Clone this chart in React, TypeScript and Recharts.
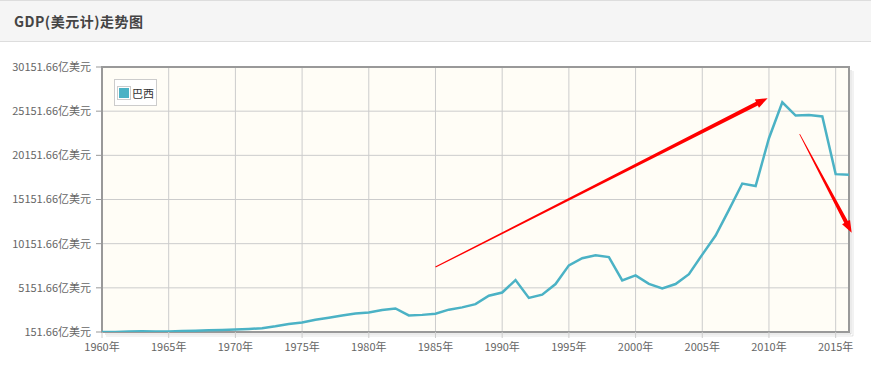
import React from 'react';
import {
  LineChart,
  Line,
  XAxis,
  YAxis,
  CartesianGrid,
  Legend,
  ReferenceLine,
  ReferenceArea,
} from 'recharts';

const years: number[] = [
  1960, 1961, 1962, 1963, 1964, 1965, 1966, 1967, 1968, 1969,
  1970, 1971, 1972, 1973, 1974, 1975, 1976, 1977, 1978, 1979,
  1980, 1981, 1982, 1983, 1984, 1985, 1986, 1987, 1988, 1989,
  1990, 1991, 1992, 1993, 1994, 1995, 1996, 1997, 1998, 1999,
  2000, 2001, 2002, 2003, 2004, 2005, 2006, 2007, 2008, 2009,
  2010, 2011, 2012, 2013, 2014, 2015, 2016,
];

const brazilGdp: number[] = [
  151.66, 152.4, 199.3, 230.2, 212.1, 217.9, 270.6, 305.9, 338.8, 374.6,
  423.3, 492.0, 585.4, 792.8, 1051.4, 1237.1, 1526.8, 1761.7, 2008.0, 2249.7,
  2350.3, 2635.6, 2816.8, 2033.0, 2090.2, 2229.4, 2681.4, 2940.8, 3304.0, 4256.0,
  4619.5, 6028.6, 4006.0, 4378.0, 5581.1, 7693.3, 8504.3, 8832.0, 8637.2, 5993.9,
  6554.2, 5593.7, 5079.6, 5583.2, 6692.9, 8916.3, 11076.4, 13970.8, 16958.2, 16670.2,
  22088.7, 26162.0, 24651.9, 24728.1, 24559.9, 18022.1, 17961.9,
];

const xTicks: number[] = [1960, 1965, 1970, 1975, 1980, 1985, 1990, 1995, 2000, 2005, 2010, 2015];
const yTicks: number[] = [151.66, 5151.66, 10151.66, 15151.66, 20151.66, 25151.66, 30151.66];
const yTickLabels: string[] = ['151.66', '5151.66', '10151.66', '15151.66', '20151.66', '25151.66', '30151.66'];

const seriesName = '巴西';
const title = 'GDP(美元计)走势图';

// annotation arrows (data coordinates: year, 亿美元)
const arrowUp = { from: [1985, 7500], to: [2009.9, 26620] };
const arrowDown = { from: [2012.3, 22550], to: [2016.2, 11400] };

const data = years.map((y, i) => ({ year: y, value: brazilGdp[i] }));

const makeArrow = (w0: number, w1: number, headLen: number, headW: number) => (props: any) => {
  const { x1, y1, x2, y2 } = props;
  if ([x1, y1, x2, y2].some((v) => typeof v !== 'number' || isNaN(v))) return <g />;
  const dx = x2 - x1;
  const dy = y2 - y1;
  const L = Math.sqrt(dx * dx + dy * dy);
  const ux = dx / L;
  const uy = dy / L;
  const nx = -uy;
  const ny = ux;
  const bx = x2 - ux * headLen;
  const by = y2 - uy * headLen;
  const pts = [
    [x1 + (nx * w0) / 2, y1 + (ny * w0) / 2],
    [bx + (nx * w1) / 2, by + (ny * w1) / 2],
    [bx + (nx * headW) / 2, by + (ny * headW) / 2],
    [x2, y2],
    [bx - (nx * headW) / 2, by - (ny * headW) / 2],
    [bx - (nx * w1) / 2, by - (ny * w1) / 2],
    [x1 - (nx * w0) / 2, y1 - (ny * w0) / 2],
  ];
  return (
    <polygon
      points={pts.map((p) => `${p[0]},${p[1]}`).join(' ')}
      fill="#ff0000"
      stroke="none"
    />
  );
};

const PlotFrame = (props: any) => {
  const { x, y, width, height } = props;
  if ([x, y, width, height].some((v) => typeof v !== 'number' || isNaN(v))) return <g />;
  return (
    <g>
      <line x1={x + width + 2} y1={y + 3} x2={x + width + 2} y2={y + height + 2} stroke="#000" strokeOpacity={0.08} strokeWidth={2} />
      <line x1={x + width + 4} y1={y + 4} x2={x + width + 4} y2={y + height + 4} stroke="#000" strokeOpacity={0.05} strokeWidth={2} />
      <line x1={x + 3} y1={y + height + 2} x2={x + width + 2} y2={y + height + 2} stroke="#000" strokeOpacity={0.08} strokeWidth={2} />
      <line x1={x + 4} y1={y + height + 4} x2={x + width + 4} y2={y + height + 4} stroke="#000" strokeOpacity={0.05} strokeWidth={2} />
      <rect x={x} y={y} width={width} height={height} fill="none" stroke="#999999" strokeWidth={2} />
    </g>
  );
};

const LegendBox = () => (
  <div
    style={{
      border: '1px solid #cccccc',
      background: '#ffffff',
      padding: '6px 2px 5px 2px',
      display: 'flex',
      alignItems: 'center',
      fontFamily: '"Noto Sans CJK SC", sans-serif',
      fontSize: 11,
      color: '#333',
      lineHeight: '12px',
    }}
  >
    <div style={{ border: '1px solid #cccccc', padding: 1, marginRight: 1 }}>
      <div style={{ width: 10, height: 10, background: '#4bb2c5' }} />
    </div>
    <span>{seriesName}</span>
  </div>
);

const tickFont = { fontFamily: '"Noto Sans CJK SC", sans-serif', fontSize: 11, fill: '#666666' };

export default function App() {
  return (
    <div style={{ position: 'absolute', left: 0, top: 0, width: 871, height: 372, background: '#ffffff', overflow: 'hidden' }}>
      <div
        style={{
          position: 'absolute',
          left: 0,
          top: 0,
          width: 871,
          height: 40,
          background: '#f5f5f5',
          borderTop: '1px solid #dddddd',
          borderBottom: '1px solid #dddddd',
          zIndex: 2,
        }}
      >
        <div
          style={{
            position: 'absolute',
            left: 14,
            top: 11,
            fontFamily: '"Noto Sans CJK SC", sans-serif',
            fontSize: 14,
            fontWeight: 'bold',
            color: '#444444',
            letterSpacing: 0.5,
            lineHeight: '18px',
          }}
        >
          {title}
        </div>
      </div>
      <div style={{ position: 'absolute', left: 0, top: 0 }}>
        <LineChart width={871} height={372} data={data} margin={{ top: 67, right: 22, bottom: 10, left: 0 }}>
          <CartesianGrid stroke="#cccccc" fill="#fffdf6" strokeWidth={1} />
          <XAxis
            dataKey="year"
            type="number"
            domain={[1960, 2016]}
            ticks={xTicks}
            tickFormatter={(v: number) => `${v}年`}
            axisLine={false}
            tickLine={{ stroke: '#cccccc' }}
            tickSize={6}
            tickMargin={5}
            height={30}
            tick={tickFont}
            allowDataOverflow
            interval={0}
          />
          <YAxis
            type="number"
            domain={[151.66, 30151.66]}
            ticks={yTicks}
            tickFormatter={(v: number) => `${yTickLabels[yTicks.indexOf(v)] ?? v}亿美元`}
            axisLine={false}
            tickLine={{ stroke: '#999999' }}
            tickSize={6}
            tickMargin={5}
            width={102}
            tick={tickFont}
            allowDataOverflow
            interval={0}
          />
          <ReferenceArea
            x1={1960}
            x2={2016}
            y1={151.66}
            y2={30151.66}
            ifOverflow="visible"
            shape={PlotFrame}
          />
          <Line
            type="linear"
            dataKey="value"
            name={seriesName}
            stroke="#4bb2c5"
            strokeWidth={2.5}
            dot={false}
            activeDot={false}
            isAnimationActive={false}
          />
          <ReferenceLine
            segment={[
              { x: arrowUp.from[0], y: arrowUp.from[1] },
              { x: arrowUp.to[0], y: arrowUp.to[1] },
            ]}
            ifOverflow="visible"
            shape={makeArrow(1.2, 4, 12, 9)}
          />
          <ReferenceLine
            segment={[
              { x: arrowDown.from[0], y: arrowDown.from[1] },
              { x: arrowDown.to[0], y: arrowDown.to[1] },
            ]}
            ifOverflow="hidden"
            shape={makeArrow(0.8, 4, 12, 9)}
          />
          <Legend
            layout="horizontal"
            verticalAlign="middle"
            align="center"
            content={LegendBox}
            wrapperStyle={{ left: 114, top: 79, width: 'auto', height: 'auto' }}
          />
        </LineChart>
      </div>
    </div>
  );
}
